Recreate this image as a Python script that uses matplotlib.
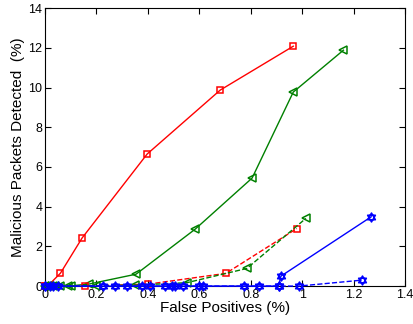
import matplotlib
matplotlib.use("Agg")
import matplotlib.pyplot as plt
import numpy as np
from matplotlib.path import Path

plt.rcParams['font.family'] = ['Liberation Sans', 'DejaVu Sans']

# Data (False positives %, detected %)
red_solid_x = [0.0, 0.01, 0.06, 0.144, 0.397, 0.681, 0.965]
red_solid_y = [0.0, 0.0, 0.65, 2.42, 6.65, 9.87, 12.08]

green_solid_x = [0.0, 0.01, 0.03, 0.06, 0.09, 0.17, 0.354, 0.584, 0.805, 0.965, 1.16]
green_solid_y = [0.0, 0.0, 0.0, 0.0, 0.0, 0.1, 0.6, 2.87, 5.44, 9.77, 11.88]

red_dash_x = [0.0, 0.02, 0.156, 0.402, 0.703, 0.979]
red_dash_y = [0.0, 0.0, 0.0, 0.1, 0.64, 2.9]

green_dash_x = [0.0, 0.02, 0.04, 0.1, 0.2, 0.35, 0.551, 0.785, 1.014]
green_dash_y = [0.0, 0.0, 0.0, 0.0, 0.02, 0.05, 0.17, 0.89, 3.41]

blue_solid_x = [0.0, 0.02, 0.05, 0.227, 0.318, 0.376, 0.467, 0.493, 0.538, 0.616, 0.772, 0.908, 0.917, 1.268]
blue_solid_y = [0.0, 0.0, 0.0, 0.0, 0.0, 0.0, 0.0, 0.0, 0.0, 0.0, 0.0, 0.0, 0.5, 3.49]

blue_dash_x = [0.0, 0.03, 0.272, 0.409, 0.506, 0.6, 0.83, 0.91, 0.986, 1.232]
blue_dash_y = [0.0, 0.0, 0.0, 0.0, 0.0, 0.0, 0.0, 0.0, 0.0, 0.3]

x_ticks = [0, 0.2, 0.4, 0.6, 0.8, 1, 1.2, 1.4]
x_tick_labels = ['0', '0.2', '0.4', '0.6', '0.8', '1', '1.2', '1.4']
y_ticks = [0, 2, 4, 6, 8, 10, 12, 14]

# hexagram marker
ang_up = np.deg2rad([90, 210, 330])
ang_dn = np.deg2rad([270, 30, 150])
verts = []
codes = []
for angs in (ang_up, ang_dn):
    pts = [(np.cos(a), np.sin(a)) for a in angs]
    verts += pts + [pts[0]]
    codes += [Path.MOVETO, Path.LINETO, Path.LINETO, Path.CLOSEPOLY]
hexagram = Path(verts, codes)

fig = plt.figure(figsize=(4.13, 3.24), dpi=100)
ax = fig.add_axes([0.109, 0.117, 0.872, 0.858])

red = (1, 0, 0)
green = (0, 0.5, 0)
blue = (0, 0, 1)

kw = dict(mfc='none', lw=1, mew=1.1, clip_on=False)
ax.plot(red_solid_x, red_solid_y, '-', color=red, marker='s', ms=5, **kw)
ax.plot(green_solid_x, green_solid_y, '-', color=green, marker='<', ms=6, **kw)
ax.plot(red_dash_x, red_dash_y, '--', color=red, marker='s', ms=5, **kw)
ax.plot(green_dash_x, green_dash_y, '--', color=green, marker='<', ms=6, **kw)
ax.plot(blue_solid_x, blue_solid_y, '-', color=blue, marker=hexagram, ms=6.5, **kw)
ax.plot(blue_dash_x, blue_dash_y, '--', color=blue, marker=hexagram, ms=6.5, **kw)

ax.set_xlim(0, 1.4)
ax.set_ylim(0, 14)
ax.set_xticks(x_ticks)
ax.set_xticklabels(x_tick_labels)
ax.set_yticks(y_ticks)
ax.tick_params(direction='in', top=True, right=True, labelsize=9, length=4, pad=2)
for s in ax.spines.values():
    s.set_linewidth(0.8)
    s.set_zorder(1)
ax.set_xlabel('False Positives (%)', fontsize=11, labelpad=0)
ax.set_ylabel('Malicious Packets Detected  (%)', fontsize=11, labelpad=2)

fig.savefig('out.png', dpi=100)
